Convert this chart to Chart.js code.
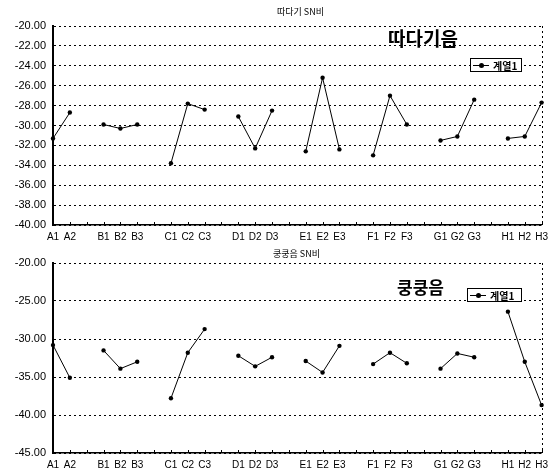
<!DOCTYPE html>
<html>
<head>
<meta charset="utf-8">
<script src="https://cdn.jsdelivr.net/npm/chart.js@4.4.1/dist/chart.umd.min.js"></script>
<style>
  body { margin: 0; background: #fff; width: 554px; height: 476px; position: relative; overflow: hidden; }
  canvas { position: absolute; left: 0; }
  .title { position: absolute; font-family: "Noto Sans CJK KR", sans-serif; font-size: 9px; color: #000; white-space: nowrap; }
  .note { position: absolute; font-family: "Noto Sans CJK KR", sans-serif; font-weight: bold; color: #000; white-space: nowrap; line-height: 1; }
  .legend { position: absolute; box-sizing: border-box; border: 1px solid #000; background: #fff; height: 14px;
            display: flex; align-items: center; padding: 0 2px; font-family: "Noto Sans CJK KR", sans-serif;
            font-size: 10px; font-weight: bold; color: #000; }
  .legend .sample { position: relative; width: 16px; height: 1px; background: #000; margin-right: 4px; }
  .legend .sample::after { content: ""; position: absolute; left: 6px; top: -2px; width: 5px; height: 5px; border-radius: 50%; background: #000; }
</style>
</head>
<body>
<canvas id="top" width="554" height="245" style="top:0"></canvas>
<canvas id="bottom" width="554" height="231" style="top:245px"></canvas>

<div class="title" style="left:277px; top:5px;">따다기 SN비</div>
<div class="note" style="left:388px; top:28px; font-size:19px;">따다기음</div>
<div class="legend" style="left:470px; top:58px; width:52px;"><span class="sample"></span>계열1</div>

<div class="title" style="left:273px; top:247px;">쿵쿵음 SN비</div>
<div class="note" style="left:397px; top:278px; font-size:17px;">쿵쿵음</div>
<div class="legend" style="left:467px; top:288px; width:55px;"><span class="sample"></span>계열1</div>

<script>
// Category labels: groups A–H, with an empty slot between groups so the line breaks.
const categories = ['A1','A2','', 'B1','B2','B3','', 'C1','C2','C3','', 'D1','D2','D3','',
                    'E1','E2','E3','', 'F1','F2','F3','', 'G1','G2','G3','', 'H1','H2','H3'];

// S/N ratio per condition (null = gap between groups)
const ddadagiSN = [-31.3, -28.7, null, -29.9, -30.3, -29.9, null, -33.8, -27.8, -28.4, null,
                   -29.1, -32.3, -28.5, null, -32.6, -25.2, -32.4, null, -33.0, -27.0, -29.9, null,
                   -31.5, -31.1, -27.4, null, -31.3, -31.1, -27.7];
const kungkungSN = [-30.8, -35.1, null, -31.5, -33.9, -33.0, null, -37.8, -31.8, -28.7, null,
                    -32.2, -33.6, -32.4, null, -32.9, -34.4, -30.9, null, -33.3, -31.8, -33.2, null,
                    -33.9, -31.9, -32.4, null, -26.4, -33.0, -38.7];

// y axis ranges
const topAxis = { min: -40, max: -20, step: 2 };
const bottomAxis = { min: -45, max: -20, step: 5 };

// small upward tick marks on the category axis plus a dotted right border
const frameMarks = {
  id: 'frameMarks',
  afterDatasetsDraw(chart) {
    const xs = chart.scales.x, a = chart.chartArea, c = chart.ctx;
    c.save();
    c.strokeStyle = '#000';
    c.lineWidth = 1;
    for (let i = 0; i < xs.ticks.length; i++) {
      const px = Math.round(xs.getPixelForTick(i)) + 0.5;
      c.beginPath(); c.moveTo(px, a.bottom); c.lineTo(px, a.bottom - 3); c.stroke();
    }
    c.setLineDash([2, 3]);
    c.beginPath(); c.moveTo(Math.round(a.right) + 0.5, a.top); c.lineTo(Math.round(a.right) + 0.5, a.bottom); c.stroke();
    c.restore();
  }
};

function makeChart(id, values, axis, padTop, xHeight) {
  return new Chart(document.getElementById(id), {
    type: 'line',
    data: {
      labels: categories,
      datasets: [{
        label: '계열1',
        data: values,
        borderColor: '#000',
        backgroundColor: '#000',
        borderWidth: 1,
        pointRadius: 2.2,
        pointBorderWidth: 0,
        pointBackgroundColor: '#000',
        spanGaps: false,
        tension: 0
      }]
    },
    options: {
      responsive: false,
      animation: false,
      events: [],
      layout: { padding: { top: padTop, right: 8, left: 0, bottom: 0 } },
      plugins: { legend: { display: false }, title: { display: false }, tooltip: { enabled: false } },
      scales: {
        x: {
          offset: false,
          afterFit(s) { s.height = xHeight; },
          grid: { display: false, drawTicks: false },
          border: { display: true, color: '#000', width: 1.5 },
          ticks: { autoSkip: false, maxRotation: 0, padding: 6, color: '#000',
                   font: { family: 'Liberation Sans', size: 10 } }
        },
        y: {
          min: axis.min, max: axis.max,
          afterFit(s) { s.width = 53; },
          grid: { color: '#000', lineWidth: 1, drawTicks: false },
          border: { display: true, color: '#000', width: 2, dash: [2, 3] },
          ticks: { stepSize: axis.step, padding: 7, color: '#000',
                   font: { family: 'Liberation Sans', size: 11 },
                   callback: v => v.toFixed(2) }
        }
      }
    },
    plugins: [frameMarks]
  });
}

makeChart('top', ddadagiSN, topAxis, 26, 20);
makeChart('bottom', kungkungSN, bottomAxis, 18, 23);
</script>
</body>
</html>
